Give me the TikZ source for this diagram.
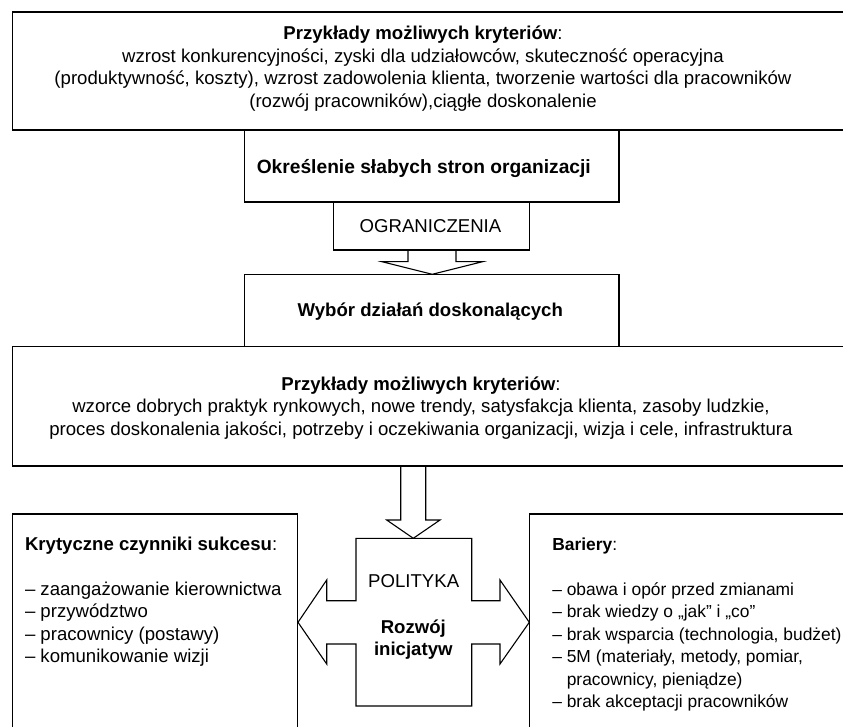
\documentclass[tikz,border=0pt]{standalone}
\usepackage{fontspec}
\setmainfont{Liberation Sans}
\newcommand{\centerlines}[1]{\vtop{\halign{\hfil##\hfil\cr#1\crcr}}}
\newcommand{\leftlines}[1]{\vtop{\halign{##\hfil\cr#1\crcr}}}
\begin{document}
\begin{tikzpicture}[x=1pt,y=-1pt,
  box/.style={draw, line width=1.1pt, rectangle, inner sep=0pt, outer sep=0pt, anchor=north west},
  txt/.style={font=\fontsize{18.6}{22.5}\selectfont, inner sep=0pt, outer sep=0pt},
  txtnarrow/.style={font=\fontsize{17.4}{22.5}\selectfont, inner sep=0pt, outer sep=0pt},
  blockarrow/.style={draw, line width=1.1pt, line join=miter}]
\useasboundingbox (0,0) rectangle (843,727);
\clip (0,0) rectangle (843,727);
% boxes
\node[box, minimum width=880pt, minimum height=118pt] (top) at (12.7,12) {};
\node[box, minimum width=374.5pt, minimum height=72pt] (okr) at (244.5,130) {};
\node[box, minimum width=196pt, minimum height=48pt] (ogr) at (333.5,202) {};
\node[box, minimum width=374.5pt, minimum height=72.2pt] (wyb) at (244.5,274.3) {};
\node[box, minimum width=880pt, minimum height=119.5pt] (kryt) at (12.7,346.5) {};
\node[box, minimum width=284.8pt, minimum height=300pt] (left) at (12.7,514) {};
\node[box, minimum width=400pt, minimum height=300pt] (right) at (529.3,514) {};
% block arrows
\draw[blockarrow] (408,250) -- (408,261.7) -- (382,261.7) -- (432.3,274.3) -- (482.5,261.7) -- (456,261.7) -- (456,250);
\draw[blockarrow] (400.7,466) -- (400.7,520) -- (386.7,520) -- (413.3,538.3) -- (440,520) -- (425.7,520) -- (425.7,466);
\draw[blockarrow] (356,538.3) -- (471.7,538.3) -- (471.7,600.7) -- (500,600.7) -- (500,580) -- (529.3,622.3) -- (500,664) -- (500,644) -- (471.7,644) -- (471.7,706) -- (356,706) -- (356,644) -- (326.7,644) -- (326.7,664) -- (298,622.3) -- (326.7,580) -- (326.7,600.7) -- (356,600.7) -- cycle;
% texts
\node[txt, anchor=base] (ttop) at (423,40) {\centerlines{\textbf{Przykłady możliwych kryteriów}:\cr
wzrost konkurencyjności, zyski dla udziałowców, skuteczność operacyjna\cr
(produktywność, koszty), wzrost zadowolenia klienta, tworzenie wartości dla pracowników\cr
(rozwój pracowników),ciągłe doskonalenie}};
\node[txt, anchor=base, font=\fontsize{19.2}{22.5}\selectfont] (tokr) at (423.8,173.3) {\textbf{Określenie słabych stron organizacji}};
\node[txt, anchor=base] (togr) at (430.5,232.7) {OGRANICZENIA};
\node[txt, anchor=base] (twyb) at (430.3,316.7) {\textbf{Wybór działań doskonalących}};
\node[txt, anchor=base] (tkryt) at (421,390) {\centerlines{\textbf{Przykłady możliwych kryteriów}:\cr
wzorce dobrych praktyk rynkowych, nowe trendy, satysfakcja klienta, zasoby ludzkie,\cr
proces doskonalenia jakości, potrzeby i oczekiwania organizacji, wizja i cele, infrastruktura}};
\node[txt, anchor=base] (tpol) at (413.7,587.3) {POLITYKA};
\node[txt, anchor=base] (troz) at (413.3,633.3) {\centerlines{\textbf{Rozwój}\cr\textbf{inicjatyw}}};
\node[txt, anchor=base west] (tleft) at (25,550) {\leftlines{\textbf{Krytyczne czynniki sukcesu}:\cr
\noalign{\vskip22.5pt}
– zaangażowanie kierownictwa\cr
– przywództwo\cr
– pracownicy (postawy)\cr
– komunikowanie wizji}};
\node[txtnarrow, anchor=base west] (tright) at (552.3,550) {\leftlines{\textbf{Bariery}:\cr
\noalign{\vskip22.5pt}
– obawa i opór przed zmianami\cr
– brak wiedzy o „jak” i „co”\cr
– brak wsparcia (technologia, budżet)\cr
– 5M (materiały, metody, pomiar,\cr
\hphantom{–\ }pracownicy, pieniądze)\cr
– brak akceptacji pracowników}};
\end{tikzpicture}
\end{document}
